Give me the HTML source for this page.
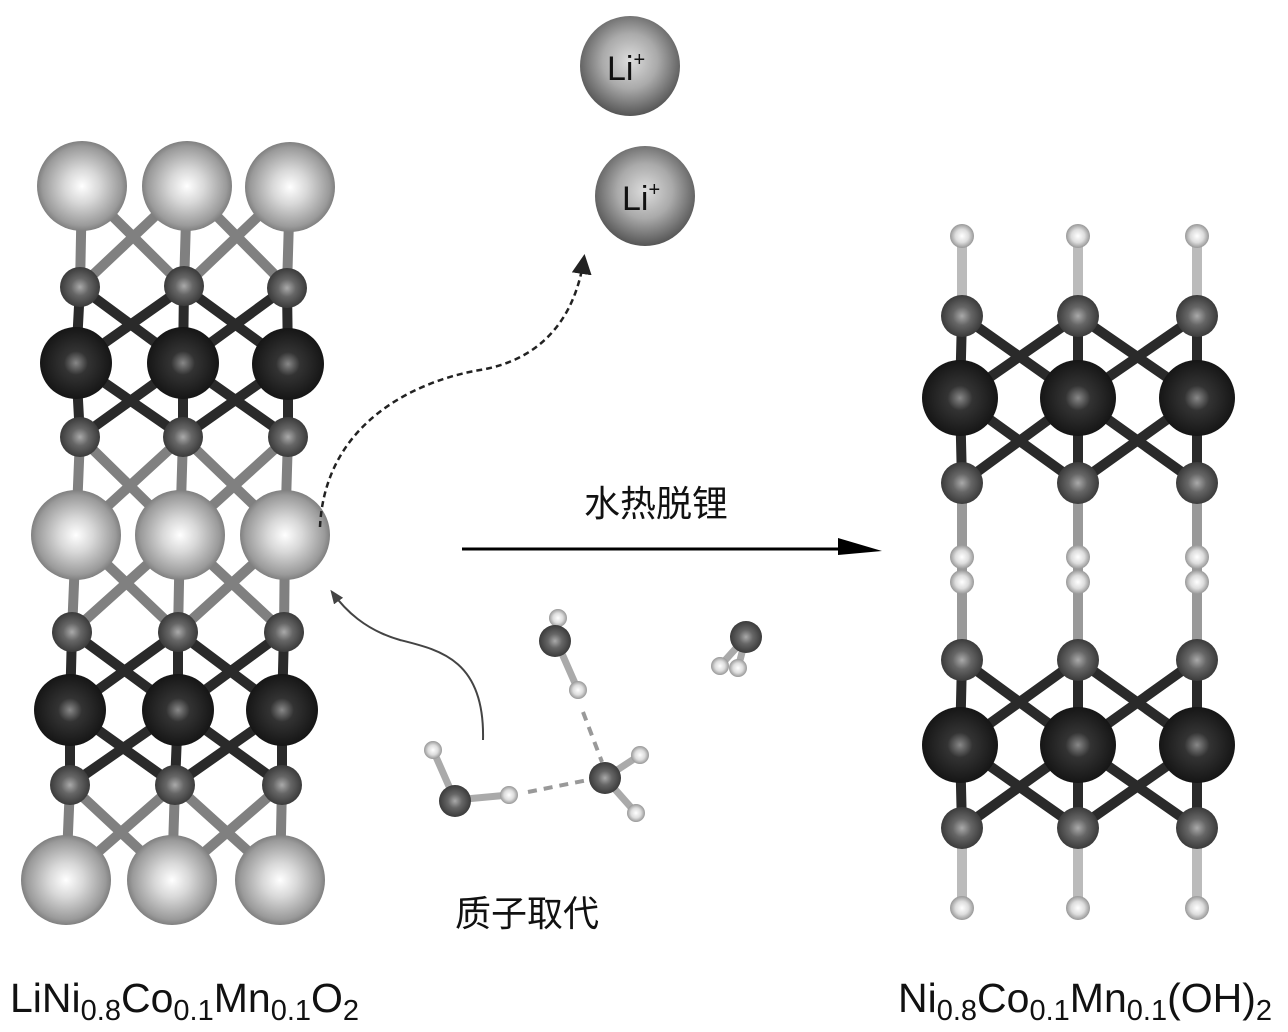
<!DOCTYPE html>
<html><head><meta charset="utf-8"><style>
html,body{margin:0;padding:0;background:#fff;width:1288px;height:1032px;overflow:hidden}
svg{display:block}
</style></head><body>
<svg width="1288" height="1032" viewBox="0 0 1288 1032" xmlns="http://www.w3.org/2000/svg">
<defs>
<radialGradient id="li" cx="0.5" cy="0.5" r="0.55" fx="0.5" fy="0.5"><stop offset="0" stop-color="#fff"/><stop offset="0.35" stop-color="#d8d8d8"/><stop offset="0.8" stop-color="#9a9a9a"/><stop offset="1" stop-color="#6a6a6a"/></radialGradient>
<radialGradient id="o" cx="0.5" cy="0.5" r="0.55"><stop offset="0" stop-color="#aaa"/><stop offset="0.4" stop-color="#666"/><stop offset="1" stop-color="#333"/></radialGradient>
<radialGradient id="tm" cx="0.5" cy="0.5" r="0.55"><stop offset="0" stop-color="#888"/><stop offset="0.3" stop-color="#333"/><stop offset="1" stop-color="#111"/></radialGradient>
<radialGradient id="h" cx="0.5" cy="0.5" r="0.55"><stop offset="0" stop-color="#fff"/><stop offset="0.5" stop-color="#ddd"/><stop offset="1" stop-color="#888"/></radialGradient>
<radialGradient id="ion" cx="0.5" cy="0.45" r="0.55"><stop offset="0" stop-color="#ddd"/><stop offset="0.5" stop-color="#aaa"/><stop offset="1" stop-color="#555"/></radialGradient>
<marker id="ah" viewBox="0 0 10 10" refX="8" refY="5" markerWidth="8" markerHeight="8" orient="auto"><path d="M0 0L10 5L0 10z" fill="#222"/></marker>
<marker id="ah2" viewBox="0 0 10 10" refX="8" refY="5" markerWidth="7" markerHeight="7" orient="auto"><path d="M0 1L10 5L0 9z" fill="#444"/></marker>
</defs>

<g fill="none" stroke-width="10" stroke-linecap="butt">
<path stroke="#808080" d="M82 186L80 287M187 186L184 287M290 186L287 287M82 186L184 287M187 186L80 287M187 186L287 287M290 186L184 287"/>
<path stroke="#2a2a2a" d="M80 287L76 363M184 287L183 363M287 287L288 363M80 287L183 363M184 287L76 363M184 287L288 363M287 287L183 363"/>
<path stroke="#2a2a2a" d="M76 363L80 437M183 363L183 437M288 363L288 437M76 363L183 437M183 363L80 437M183 363L288 437M288 363L183 437"/>
<path stroke="#808080" d="M80 437L76 535M183 437L180 535M288 437L285 535M80 437L180 535M183 437L76 535M183 437L285 535M288 437L180 535"/>
<path stroke="#808080" d="M76 535L72 632M180 535L178 632M285 535L284 632M76 535L178 632M180 535L72 632M180 535L284 632M285 535L178 632"/>
<path stroke="#2a2a2a" d="M72 632L70 710M178 632L178 710M284 632L282 710M72 632L178 710M178 632L70 710M178 632L282 710M284 632L178 710"/>
<path stroke="#2a2a2a" d="M70 710L70 785M178 710L175 785M282 710L282 785M70 710L175 785M178 710L70 785M178 710L282 785M282 710L175 785"/>
<path stroke="#808080" d="M70 785L66 880M175 785L172 880M282 785L280 880M70 785L172 880M175 785L66 880M175 785L280 880M282 785L172 880"/>
</g>
<g fill="url(#li)"><circle cx="82" cy="186" r="45"/><circle cx="187" cy="186" r="45"/><circle cx="290" cy="187" r="45"/>
<circle cx="76" cy="535" r="45"/><circle cx="180" cy="535" r="45"/><circle cx="285" cy="535" r="45"/>
<circle cx="66" cy="880" r="45"/><circle cx="172" cy="880" r="45"/><circle cx="280" cy="880" r="45"/></g>
<g fill="url(#o)"><circle cx="80" cy="287" r="20"/><circle cx="184" cy="286" r="20"/><circle cx="287" cy="288" r="20"/>
<circle cx="80" cy="437" r="20"/><circle cx="183" cy="437" r="20"/><circle cx="288" cy="437" r="20"/>
<circle cx="72" cy="632" r="20"/><circle cx="178" cy="632" r="20"/><circle cx="284" cy="632" r="20"/>
<circle cx="70" cy="785" r="20"/><circle cx="175" cy="785" r="20"/><circle cx="282" cy="785" r="20"/></g>
<g fill="url(#tm)"><circle cx="76" cy="363" r="36"/><circle cx="183" cy="363" r="36"/><circle cx="288" cy="364" r="36"/>
<circle cx="70" cy="710" r="36"/><circle cx="178" cy="710" r="36"/><circle cx="282" cy="710" r="36"/></g>

<g fill="none" stroke-width="10">
<path stroke="#bbb" d="M962 236L962 316M1078 236L1078 316M1197 236L1197 316M962 828L962 908M1078 828L1078 908M1197 828L1197 908"/>
<path stroke="#999" d="M962 483L962 660M1078 483L1078 660M1197 483L1197 660"/>
<path stroke="#2a2a2a" d="M962 316L960 398M1078 316L1078 398M1197 316L1197 398M962 316L1078 398M1078 316L960 398M1078 316L1197 398M1197 316L1078 398"/>
<path stroke="#2a2a2a" d="M960 398L962 483M1078 398L1078 483M1197 398L1197 483M960 398L1078 483M1078 398L962 483M1078 398L1197 483M1197 398L1078 483"/>
<path stroke="#2a2a2a" d="M962 660L960 745M1078 660L1078 745M1197 660L1197 745M962 660L1078 745M1078 660L960 745M1078 660L1197 745M1197 660L1078 745"/>
<path stroke="#2a2a2a" d="M960 745L962 828M1078 745L1078 828M1197 745L1197 828M960 745L1078 828M1078 745L962 828M1078 745L1197 828M1197 745L1078 828"/>
</g>
<g fill="url(#h)"><circle cx="962" cy="236" r="12"/><circle cx="1078" cy="236" r="12"/><circle cx="1197" cy="236" r="12"/>
<circle cx="962" cy="557" r="12"/><circle cx="1078" cy="557" r="12"/><circle cx="1197" cy="557" r="12"/>
<circle cx="962" cy="582" r="12"/><circle cx="1078" cy="582" r="12"/><circle cx="1197" cy="582" r="12"/>
<circle cx="962" cy="908" r="12"/><circle cx="1078" cy="908" r="12"/><circle cx="1197" cy="908" r="12"/></g>
<g fill="url(#o)"><circle cx="962" cy="316" r="21"/><circle cx="1078" cy="316" r="21"/><circle cx="1197" cy="316" r="21"/>
<circle cx="962" cy="483" r="21"/><circle cx="1078" cy="483" r="21"/><circle cx="1197" cy="483" r="21"/>
<circle cx="962" cy="660" r="21"/><circle cx="1078" cy="660" r="21"/><circle cx="1197" cy="660" r="21"/>
<circle cx="962" cy="828" r="21"/><circle cx="1078" cy="828" r="21"/><circle cx="1197" cy="828" r="21"/></g>
<g fill="url(#tm)"><circle cx="960" cy="398" r="38"/><circle cx="1078" cy="398" r="38"/><circle cx="1197" cy="398" r="38"/>
<circle cx="960" cy="745" r="38"/><circle cx="1078" cy="745" r="38"/><circle cx="1197" cy="745" r="38"/></g>

<circle cx="630" cy="66" r="50" fill="url(#ion)"/>
<circle cx="645" cy="196" r="50" fill="url(#ion)"/>
<g font-family="Liberation Sans, sans-serif" font-size="34" fill="#111">
<text x="607" y="80">Li<tspan font-size="20" dy="-14">+</tspan></text>
<text x="622" y="210">Li<tspan font-size="20" dy="-14">+</tspan></text>
</g>

<path d="M320 527 C325 420 420 380 480 370 C540 360 575 320 584 258" fill="none" stroke="#222" stroke-width="2.5" stroke-dasharray="6,4" marker-end="url(#ah)"/>
<path d="M483 740 C485 660 440 650 400 640 C365 630 345 610 332 592" fill="none" stroke="#444" stroke-width="2" marker-end="url(#ah2)"/>
<line x1="462" y1="549" x2="848" y2="549" stroke="#000" stroke-width="3"/>
<path d="M838 538 L882 551 L838 555 Z" fill="#000"/>

<g stroke="#999" stroke-width="4" stroke-dasharray="9,7" fill="none">
<path d="M583 712L602 762"/><path d="M528 792L588 780"/>
</g>
<g stroke-width="7" fill="none">
<path stroke="#aaa" d="M556 640L558 618M556 640L578 690M455 800L433 750M455 800L509 795M605 778L640 755M605 778L636 813M746 637L720 666M746 637L738 668"/>
</g>
<g fill="url(#h)"><circle cx="558" cy="618" r="9"/><circle cx="578" cy="690" r="9"/><circle cx="433" cy="750" r="9"/><circle cx="509" cy="795" r="9"/><circle cx="640" cy="755" r="9"/><circle cx="636" cy="813" r="9"/><circle cx="720" cy="666" r="9"/><circle cx="738" cy="668" r="9"/></g>
<g fill="url(#o)"><circle cx="555" cy="641" r="16"/><circle cx="455" cy="801" r="16"/><circle cx="605" cy="778" r="16"/><circle cx="746" cy="637" r="16"/></g>

<g font-family="Liberation Sans, 'Noto Sans CJK SC', sans-serif" fill="#111">
<text x="584" y="516" font-size="36">水热脱锂</text>
<text x="455" y="926" font-size="36">质子取代</text>
</g>
<g font-family="Liberation Sans, sans-serif" font-size="41" fill="#111">
<text x="10" y="1012">LiNi<tspan font-size="29" dy="8">0.8</tspan><tspan dy="-8">Co</tspan><tspan font-size="29" dy="8">0.1</tspan><tspan dy="-8">Mn</tspan><tspan font-size="29" dy="8">0.1</tspan><tspan dy="-8">O</tspan><tspan font-size="29" dy="8">2</tspan></text>
<text x="898" y="1012">Ni<tspan font-size="29" dy="8">0.8</tspan><tspan dy="-8">Co</tspan><tspan font-size="29" dy="8">0.1</tspan><tspan dy="-8">Mn</tspan><tspan font-size="29" dy="8">0.1</tspan><tspan dy="-8">(OH)</tspan><tspan font-size="29" dy="8">2</tspan></text>
</g>
</svg>
</body></html>
